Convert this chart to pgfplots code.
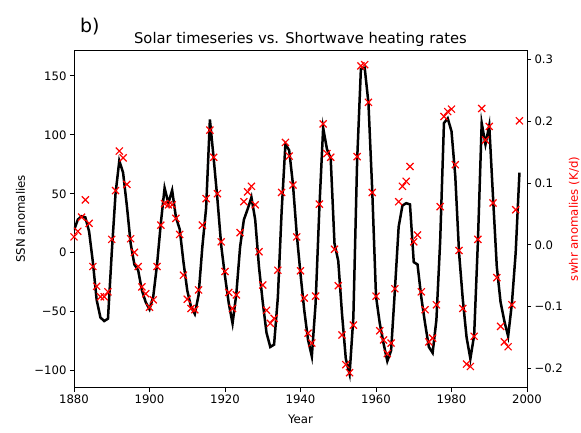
\documentclass[border=0pt]{standalone}
\usepackage{fontspec}
\setmainfont{DejaVu Sans}
\usepackage{pgfplots}
\usepackage{pgfplotstable}
\pgfplotsset{compat=1.18}

% yearly values: SSN anomalies (left axis) and swhr anomalies in K/d (right axis)
\pgfplotstableread{
year ssn swhr
1880 19 0.013
1881 28 0.022
1882 31 0.045
1883 30 0.073
1884 18 0.035
1885 -8 -0.035
1886 -40 -0.067
1887 -55 -0.084
1888 -58 -0.084
1889 -56 -0.076
1890 0 0.009
1891 50 0.088
1892 78 0.152
1893 68 0.141
1894 40 0.098
1895 8 0.010
1896 -10 -0.012
1897 -15 -0.035
1898 -32 -0.068
1899 -42 -0.079
1900 -48 -0.101
1901 -37 -0.089
1902 -10 -0.035
1903 25 0.032
1904 55 0.067
1905 42 0.065
1906 53 0.065
1907 30 0.043
1908 20 0.017
1909 -8 -0.049
1910 -32 -0.088
1911 -46 -0.103
1912 -52 -0.105
1913 -36 -0.073
1914 5 0.032
1915 38 0.075
1916 113 0.186
1917 80 0.142
1918 45 0.083
1919 6 0.005
1920 -20 -0.043
1921 -43 -0.077
1922 -60 -0.103
1923 -35 -0.081
1924 5 0.020
1925 28 0.070
1926 37 0.086
1927 47 0.095
1928 28 0.065
1929 -12 -0.011
1930 -42 -0.065
1931 -68 -0.106
1932 -80 -0.127
1933 -78 -0.119
1934 -38 -0.041
1935 35 0.085
1936 92 0.166
1937 87 0.144
1938 58 0.097
1939 16 0.013
1940 -18 -0.042
1941 -49 -0.086
1942 -74 -0.143
1943 -88 -0.159
1944 -43 -0.083
1945 38 0.066
1946 106 0.196
1947 88 0.148
1948 80 0.142
1949 8 -0.007
1950 -7 -0.066
1951 -52 -0.146
1952 -90 -0.194
1953 -103 -0.207
1954 -55 -0.130
1955 78 0.143
1956 156 0.290
1957 157 0.292
1958 127 0.231
1959 53 0.085
1960 -37 -0.083
1961 -60 -0.139
1962 -77 -0.154
1963 -92 -0.176
1964 -83 -0.159
1965 -32 -0.071
1966 22 0.070
1967 40 0.095
1968 42 0.103
1969 41 0.127
1970 -8 0.005
1971 -10 0.016
1972 -38 -0.076
1973 -60 -0.105
1974 -80 -0.157
1975 -85 -0.151
1976 -57 -0.097
1977 10 0.062
1978 110 0.208
1979 114 0.216
1980 103 0.220
1981 65 0.130
1982 0 -0.009
1983 -40 -0.103
1984 -72 -0.193
1985 -90 -0.197
1986 -70 -0.148
1987 10 0.009
1988 110 0.221
1989 92 0.170
1990 108 0.192
1991 47 0.068
1992 -12 -0.053
1993 -42 -0.132
1994 -58 -0.157
1995 -71 -0.165
1996 -43 -0.097
1997 0 0.057
1998 68 0.201
}\solardata

\begin{document}
\begin{tikzpicture}[font=\fontsize{11.8}{14}\selectfont]
\pgfplotsset{
  twin/.style={
    scale only axis, width=453bp, height=337bp,
    xmin=1880, xmax=2000,
    tick align=outside,
    major tick length=4bp,
    every tick/.style={black, line width=0.9bp},
    axis line style={line width=0.9bp},
    ticklabel style={font=\fontsize{11.7}{14}\selectfont},
  },
}
\begin{axis}[twin,
  ymin=-114.4, ymax=171.6,
  tick pos=left,
  xtick={1880,1900,1920,1940,1960,1980,2000},
  xticklabels={1880,1900,1920,1940,1960,1980,2000},
  ytick={-100,-50,0,50,100,150},
  yticklabels={−100,−50,0,50,100,150},
  xlabel={Year},
  ylabel={SSN anomalies},
  title={Solar timeseries vs. Shortwave heating rates},
  every axis x label/.style={at={(axis description cs:0.5,0)}, anchor=north, yshift=-27bp, inner sep=0pt},
  every axis y label/.style={at={(axis description cs:-0.118,0.5)}, rotate=90, anchor=center, inner sep=0pt},
  every axis title/.style={at={(axis description cs:0.5,1)}, anchor=base, yshift=6.8bp, inner sep=0pt, font=\fontsize{14.8}{17}\selectfont},
]
\addplot[black, line width=2.5bp] table[x=year, y=ssn] {\solardata};
\end{axis}
\begin{axis}[twin,
  ymin=-0.231, ymax=0.315,
  axis x line=none,
  axis y line*=right,
  ytick={-0.2,-0.1,0,0.1,0.2,0.3},
  yticklabels={−0.2,−0.1,0.0,0.1,0.2,0.3},
  ylabel={swhr anomalies (K/d)},
  every axis y label/.style={at={(axis description cs:1.104,0.5)}, rotate=90, anchor=center, inner sep=0pt, text=red},
]
\addplot[only marks, mark=x, red, mark size=5bp, line width=1.2bp] table[x=year, y=swhr] {\solardata};
\end{axis}
\node[anchor=base west, inner sep=0pt, font=\fontsize{19}{22}\selectfont] at (6bp,354.5bp) {b)};
\pgfresetboundingbox
\useasboundingbox (-74bp,-45.5bp) rectangle (507bp,387.5bp);
\end{tikzpicture}
\end{document}
